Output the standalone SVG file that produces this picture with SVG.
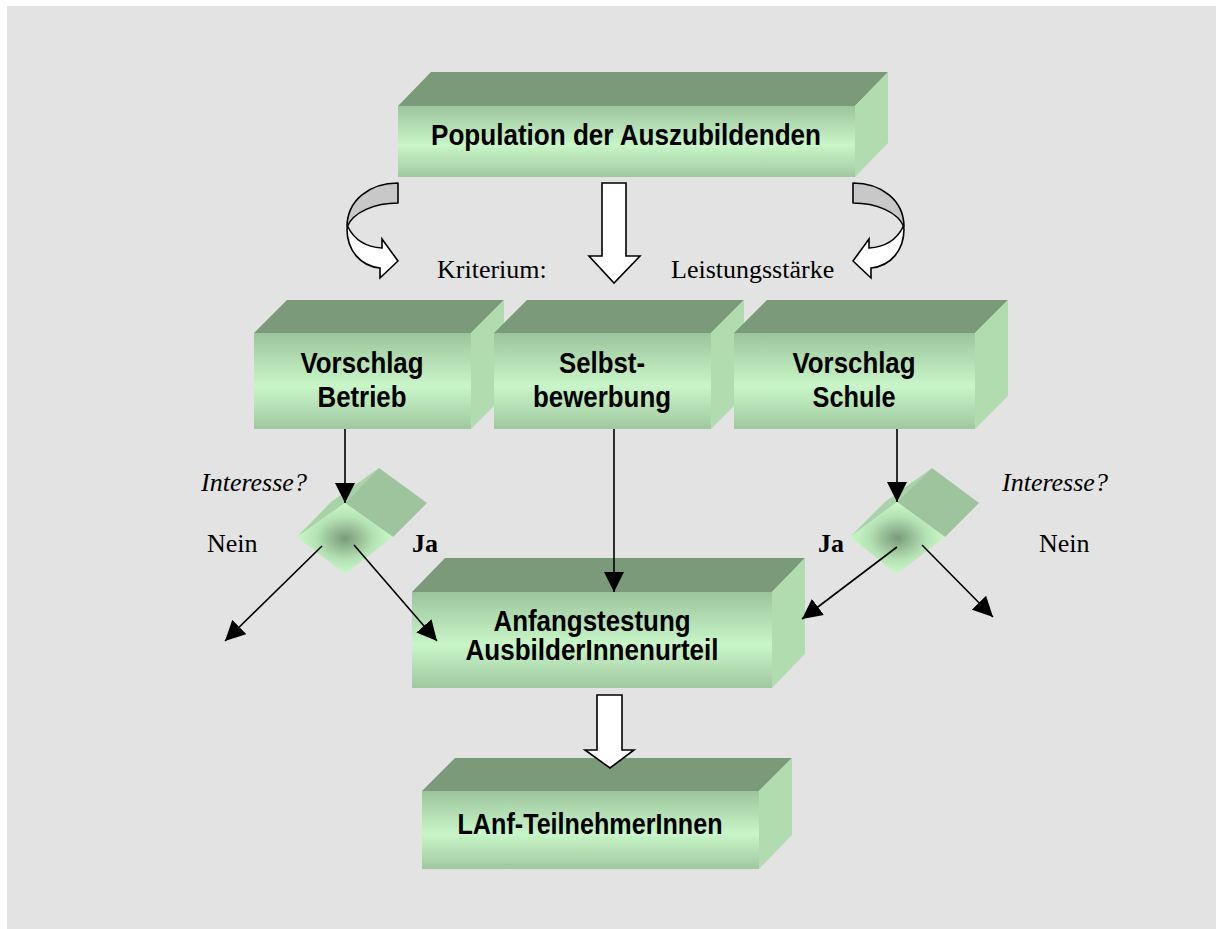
<svg xmlns="http://www.w3.org/2000/svg" width="1216" height="929" viewBox="0 0 1216 929">
<defs>
<linearGradient id="gFront" x1="0" y1="0" x2="0" y2="1">
<stop offset="0" stop-color="#9cc49c"/>
<stop offset="0.55" stop-color="#c8f6c8"/>
<stop offset="1" stop-color="#a0c8a0"/>
</linearGradient>
<radialGradient id="gDia" cx="0.5" cy="0.5" r="0.5">
<stop offset="0" stop-color="#7a9a7a"/>
<stop offset="0.6" stop-color="#b4e2b4"/>
<stop offset="1" stop-color="#c8f8c8"/>
</radialGradient>
<marker id="ah" viewBox="0 0 20 20" markerUnits="userSpaceOnUse" markerWidth="20" markerHeight="20" refX="20" refY="10" orient="auto">
<path d="M0,0 L20,10 L0,20 z" fill="#000"/>
</marker>
<style>
.top{fill:#7a9a7a}
.side{fill:#b0dcb0}
.front{fill:url(#gFront)}
.bt{font-family:"Liberation Sans Narrow","Arial Narrow","Liberation Sans",Arial,sans-serif;font-weight:bold;font-size:30px;text-anchor:middle;fill:#000}
.lbl{font-family:"Liberation Serif","Times New Roman",serif;font-size:26px;fill:#000}
.it{font-style:italic}
.b{font-weight:bold}
.conn line{stroke:#000;stroke-width:1.6;marker-end:url(#ah)}
.blk{fill:#fff;stroke:#000;stroke-width:1.6;stroke-linejoin:miter}
.cgray{fill:#c8c8c8;stroke:#000;stroke-width:1.6;stroke-linejoin:round}
.cwhite{fill:#fff;stroke:#000;stroke-width:1.6;stroke-linejoin:miter}
.dface{fill:#9dc49d}
.dsl{fill:#a8d2a8}
.dfront{fill:url(#gDia)}
</style>
</defs>
<rect x="0" y="0" width="1216" height="929" fill="#fff"/>
<rect x="7" y="6" width="1209" height="923" fill="#e3e3e3"/>

<g id="node-population">
<polygon class="top" points="398,106 431,72 888,72 855,106"/>
<polygon class="side" points="855,106 888,72 888,143 855,177"/>
<rect class="front" x="398" y="106" width="457" height="71"/>
<text class="bt" x="626" y="145" font-size="31" textLength="390" lengthAdjust="spacingAndGlyphs">Population der Auszubildenden</text>
</g>

<g id="node-betrieb">
<polygon class="top" points="254,333 287,300 504,300 471,333"/>
<polygon class="side" points="471,333 504,300 504,396 471,429"/>
<rect class="front" x="254" y="333" width="217" height="96"/>
<text class="bt" x="362" y="373" textLength="123" lengthAdjust="spacingAndGlyphs">Vorschlag</text>
<text class="bt" x="362" y="407" textLength="89" lengthAdjust="spacingAndGlyphs">Betrieb</text>
</g>

<g id="node-selbst">
<polygon class="top" points="494,333 527,300 744,300 711,333"/>
<polygon class="side" points="711,333 744,300 744,396 711,429"/>
<rect class="front" x="494" y="333" width="217" height="96"/>
<text class="bt" x="602" y="373" textLength="86" lengthAdjust="spacingAndGlyphs">Selbst-</text>
<text class="bt" x="602" y="407" textLength="138" lengthAdjust="spacingAndGlyphs">bewerbung</text>
</g>

<g id="node-schule">
<polygon class="top" points="734,333 767,300 1008,300 975,333"/>
<polygon class="side" points="975,333 1008,300 1008,396 975,429"/>
<rect class="front" x="734" y="333" width="241" height="96"/>
<text class="bt" x="854" y="373" textLength="123" lengthAdjust="spacingAndGlyphs">Vorschlag</text>
<text class="bt" x="854" y="407" textLength="83" lengthAdjust="spacingAndGlyphs">Schule</text>
</g>

<g id="node-decision-left">
<polygon class="dsl" points="297,537 345,503 379,468 331,502"/>
<polygon class="dface" points="345,503 379,468 427,503 393,537"/>
<polygon class="dfront" points="345,503 393,537 345,574 297,537"/>
</g>

<g id="node-decision-right">
<polygon class="dsl" points="850,537 897,502 932,468 885,502"/>
<polygon class="dface" points="897,502 932,468 979,503 945,537"/>
<polygon class="dfront" points="897,502 945,537 897,574 850,537"/>
</g>

<g id="node-anfang">
<polygon class="top" points="412,592 445,558 805,558 772,592"/>
<polygon class="side" points="772,592 805,558 805,654 772,688"/>
<rect class="front" x="412" y="592" width="360" height="96"/>
<text class="bt" x="592" y="631" font-size="28" textLength="197" lengthAdjust="spacingAndGlyphs">Anfangstestung</text>
<text class="bt" x="592" y="660" font-size="28" textLength="253" lengthAdjust="spacingAndGlyphs">AusbilderInnenurteil</text>
</g>

<g id="node-lanf">
<polygon class="top" points="422,791 455,758 792,758 759,791"/>
<polygon class="side" points="759,791 792,758 792,835 759,869"/>
<rect class="front" x="422" y="791" width="337" height="78"/>
<text class="bt" x="590" y="834" textLength="265" lengthAdjust="spacingAndGlyphs">LAnf-TeilnehmerInnen</text>
</g>

<g id="labels">
<text class="lbl" x="437" y="278" font-size="24">Kriterium:</text>
<text class="lbl" x="671" y="278">Leistungsstärke</text>
<text class="lbl it" x="201" y="491">Interesse?</text>
<text class="lbl it" x="1002" y="491">Interesse?</text>
<text class="lbl" x="207" y="552">Nein</text>
<text class="lbl" x="1039" y="552">Nein</text>
<text class="lbl b" x="412" y="552">Ja</text>
<text class="lbl b" x="818" y="552">Ja</text>
</g>

<g id="connectors">
<g id="curved-left">
<path class="cgray" d="M398,183 C370,183 347,200 347,227 C353,212 375,203 398,203 Z"/>
<path class="cwhite" d="M348,227 C355,241 366,247 382,248 L382,239 L398,261 L380,278 L380,268 C360,266 347,250 347,229 Z"/>
</g>
<g id="curved-right" transform="translate(1251,0) scale(-1,1)">
<path class="cgray" d="M398,183 C370,183 347,200 347,227 C353,212 375,203 398,203 Z"/>
<path class="cwhite" d="M348,227 C355,241 366,247 382,248 L382,239 L398,261 L380,278 L380,268 C360,266 347,250 347,229 Z"/>
</g>
<path class="blk" d="M602,183 L626,183 L626,256 L640,256 L614,283 L589,256 L602,256 Z"/>
<path class="blk" d="M597,695 L622,695 L622,750 L634,750 L610,768 L585,750 L597,750 Z"/>
<g class="conn">
<line x1="345" y1="429" x2="345" y2="503"/>
<line x1="322" y1="546" x2="225" y2="641"/>
<line x1="354" y1="545" x2="437" y2="641"/>
<line x1="614" y1="429" x2="614" y2="592"/>
<line x1="897" y1="429" x2="897" y2="502"/>
<line x1="897" y1="547" x2="802" y2="619"/>
<line x1="922" y1="545" x2="993" y2="617"/>
</g>
</g>
</svg>
